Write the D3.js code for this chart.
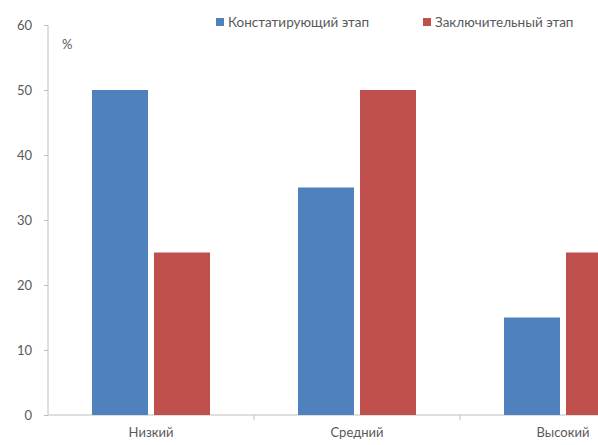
<!DOCTYPE html>
<html>
<head>
<meta charset="utf-8">
<script src="https://cdn.jsdelivr.net/npm/d3@7"></script>
<style>
  html, body { margin: 0; padding: 0; background: #fff; overflow: hidden; }
  svg { display: block; }
  text { font-family: Lato, "Open Sans", sans-serif; fill: #595959; }
</style>
</head>
<body>
<script>
// Levels and results for the two stages, in percent
const categories = ["Низкий", "Средний", "Высокий"];
const seriesNames = ["Констатирующий этап", "Заключительный этап"];
const stageStart = [50, 35, 15];
const stageFinal = [25, 50, 25];
const yTicks = [0, 10, 20, 30, 40, 50, 60];
const colors = ["#4F81BD", "#C0504D"];

const W = 598, H = 445;
const svg = d3.select("body").append("svg").attr("width", W).attr("height", H);

// plot area runs past the right edge of the page
const x0 = 48, x1 = 666, yTop = 25, yBottom = 415;

const x = d3.scaleBand().domain(categories).range([x0, x1]).paddingInner(0).paddingOuter(0);
const y = d3.scaleLinear().domain([0, 60]).range([yBottom, yTop]);

const barW = 56, barGap = 6;
const series = [stageStart, stageFinal];

// y axis
const yAxis = d3.axisLeft(y).tickValues(yTicks).tickSize(4).tickPadding(12);
const gy = svg.append("g").attr("transform", `translate(${x0},0)`).call(yAxis);
gy.select(".domain").attr("stroke", "#BFBFBF").attr("d", `M0,${yTop}V${yBottom}`);
gy.selectAll(".tick line").attr("stroke", "#BFBFBF");
gy.selectAll(".tick text").attr("font-size", 13).style("fill", "#595959");

// x axis
const xAxis = d3.axisBottom(x).tickSize(0).tickPadding(13);
const gx = svg.append("g").attr("transform", `translate(0,${yBottom})`).call(xAxis);
gx.select(".domain").attr("stroke", "#BFBFBF").attr("d", `M${x0},0H${x1}`);
gx.selectAll(".tick text").attr("font-size", 13).style("fill", "#595959");
// category separators
gx.selectAll(".sep").data(categories.slice(1)).enter().append("line")
  .attr("x1", d => x(d)).attr("x2", d => x(d))
  .attr("y1", 0).attr("y2", 5).attr("stroke", "#BFBFBF");

// bars
series.forEach((vals, si) => {
  svg.append("g").selectAll("rect").data(categories).enter().append("rect")
    .attr("x", (c) => x(c) + (x.bandwidth() - (barW * 2 + barGap)) / 2 + si * (barW + barGap))
    .attr("y", (c, i) => y(vals[i]))
    .attr("width", barW)
    .attr("height", (c, i) => y(0) - y(vals[i]))
    .attr("fill", colors[si]);
});

// unit label
svg.append("text").attr("x", 62).attr("y", 49).attr("font-size", 13).text("%");

// legend
const legendX = [216, 423];
seriesNames.forEach((n, i) => {
  const g = svg.append("g").attr("transform", `translate(${legendX[i]},18)`);
  g.append("rect").attr("width", 8).attr("height", 8).attr("y", 0).attr("fill", colors[i]);
  g.append("text").attr("x", 12).attr("y", 8.5).attr("font-size", 13.5).text(n);
});
</script>
</body>
</html>
